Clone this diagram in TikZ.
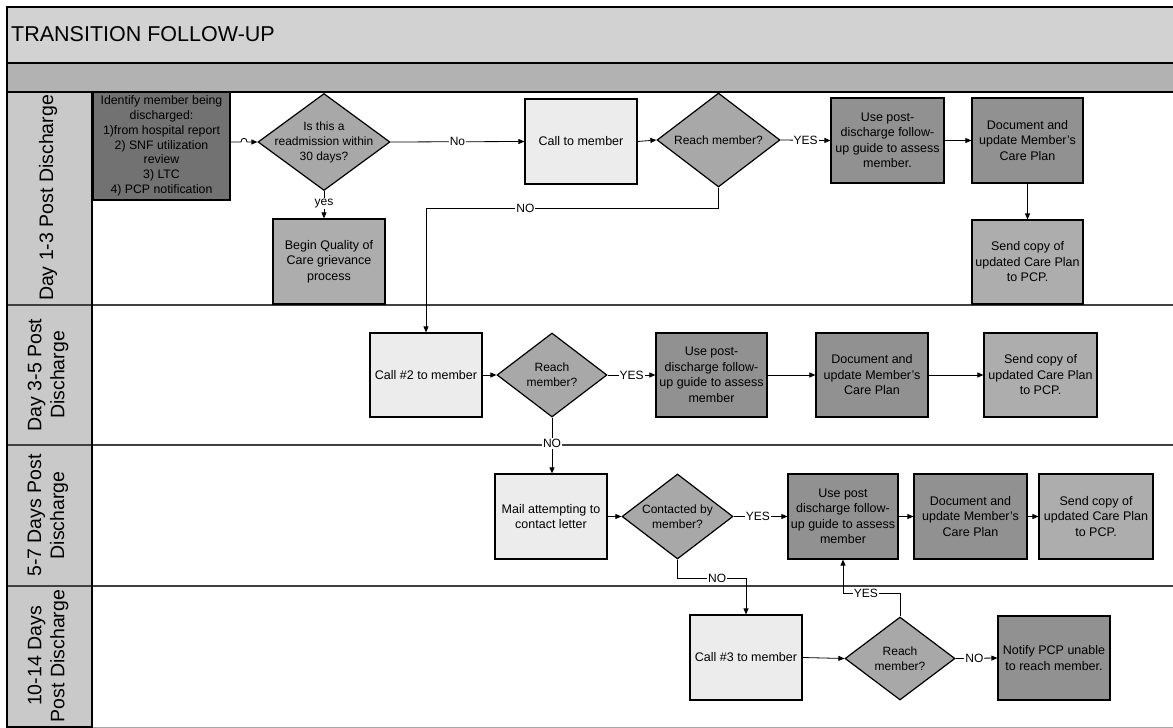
\documentclass[tikz,border=0pt]{standalone}
\usepackage{fontspec}
\setmainfont{Liberation Sans}
\usetikzlibrary{shapes.geometric,arrows.meta}

\definecolor{titlegray}{HTML}{D2D2D2}
\definecolor{bandgray}{HTML}{B2B2B2}
\definecolor{lanegray}{HTML}{C9C9C9}
\definecolor{darkbox}{HTML}{727272}
\definecolor{midbox}{HTML}{919191}
\definecolor{sendbox}{HTML}{ADADAD}
\definecolor{lightbox}{HTML}{ECECEC}
\definecolor{decgray}{HTML}{A8A8A8}

\tikzset{
  frame/.style={line width=1.6pt, black},
  lanesep/.style={line width=1.2pt, black!75},
  box/.style={draw=black, line width=1.2pt, rectangle, align=center,
    minimum width=112pt, minimum height=85pt, inner sep=1.5pt,
    font=\fontsize{12.5}{15.5}\selectfont},
  lightproc/.style={box, fill=lightbox},
  midproc/.style={box, fill=midbox},
  sendproc/.style={box, fill=sendbox},
  darkproc/.style={box, fill=darkbox},
  dec/.style={diamond, draw=black, line width=1.2pt, fill=decgray,
    inner sep=0pt, minimum width=110pt, minimum height=84pt},
  dtxt/.style={align=center, inner sep=0pt, font=\fontsize{12}{15}\selectfont},
  arr/.style={-{Triangle[length=6pt,width=5pt]}, line width=0.8pt, black},
  lbl/.style={fill=white, inner sep=1pt, font=\fontsize{12}{14}\selectfont},
  lanelbl/.style={rotate=90, align=center, font=\fontsize{19.5}{23}\selectfont},
}

\begin{document}
\begin{tikzpicture}[x=1pt,y=-1pt]
\useasboundingbox (0,0) rectangle (1173,728);

% ---- pool frame ----
\fill[titlegray] (7,7) rectangle (1173,63);
\fill[bandgray] (7,63) rectangle (1173,92);
\fill[lanegray] (7,92) rectangle (92,727);
\draw[black!35, line width=1pt] (92,727) -- (1173,727);
\draw[lanesep] (7,305) -- (1173,305);
\draw[lanesep] (7,445) -- (1173,445);
\draw[lanesep] (7,586) -- (1173,586);
\draw[frame] (1173,7) -- (7,7) -- (7,727) -- (92,727) -- (92,92);
\draw[frame] (7,63) -- (1173,63);
\draw[frame] (7,92) -- (1173,92);

\node[anchor=west, inner sep=0pt, font=\fontsize{21.5}{25}\selectfont] (title) at (11,34) {TRANSITION FOLLOW-UP};

% ---- lane labels ----
\node[lanelbl] (lane1) at (48,198) {Day 1-3 Post Discharge};
\node[lanelbl] (lane2) at (48,375) {Day 3-5 Post\\Discharge};
\node[lanelbl] (lane3) at (48,515.5) {5-7 Days Post\\Discharge};
\node[lanelbl] (lane4) at (48,656) {10-14 Days\\Post Discharge};

% ---- lane 1: day 1-3 ----
\node[darkproc, minimum width=137pt, minimum height=108pt,
      font=\fontsize{12.3}{14.8}\selectfont] (ident) at (161.5,146)
  {Identify member being\\discharged:\\1)from hospital report\\2) SNF utilization\\review\\3) LTC\\4) PCP notification};
\node[dec, minimum width=132pt, minimum height=97pt,
      label={[dtxt]center:Is this a\\readmission within\\30 days?}] (d1) at (324,142) {};
\node[sendproc] (begin) at (329,261.5) {Begin Quality of\\Care grievance\\process};
\node[lightproc] (call1) at (581,141.5) {Call to member};
\node[dec, minimum width=123pt, minimum height=94pt,
      label={[dtxt]center:Reach member?}] (reach1) at (718.5,140) {};
\node[midproc, minimum width=113pt] (use1) at (887.5,140.5) {Use post-\\discharge follow-\\up guide to assess\\member.};
\node[midproc, minimum width=111pt] (doc1) at (1027.5,140.5) {Document and\\update Member's\\Care Plan};
\node[sendproc, minimum width=111pt, minimum height=84pt] (send1) at (1027.5,262) {Send copy of\\updated Care Plan\\to PCP.};

% ---- lane 2: day 3-5 ----
\node[lightproc, minimum height=84pt] (call2) at (426,375) {Call \#2 to member};
\node[dec, label={[dtxt]center:Reach\\member?}] (reach2) at (552,375) {};
\node[midproc, minimum width=111pt, minimum height=84pt] (use2) at (711.5,375) {Use post-\\discharge follow-\\up guide to assess\\member};
\node[midproc, minimum height=84pt] (doc2) at (872,375) {Document and\\update Member's\\Care Plan};
\node[sendproc, minimum width=113pt, minimum height=84pt] (send2) at (1040.5,375) {Send copy of\\updated Care Plan\\to PCP.};

% ---- lane 3: day 5-7 ----
\node[lightproc] (mail) at (551,516.5) {Mail attempting to\\contact letter};
\node[dec, minimum width=111pt, minimum height=85pt,
      label={[dtxt]center:Contacted by\\member?}] (cont) at (677.5,516.5) {};
\node[midproc, minimum width=110pt] (use3) at (843,516.5) {Use post\\discharge follow-\\up guide to assess\\member};
\node[midproc, minimum width=113pt] (doc3) at (970.5,516.5) {Document and\\update Member's\\Care Plan};
\node[sendproc, minimum width=114pt] (send3) at (1096,516.5) {Send copy of\\updated Care Plan\\to PCP.};

% ---- lane 4: day 10-14 ----
\node[lightproc] (call3) at (746,657.5) {Call \#3 to member};
\node[dec, minimum width=110pt, minimum height=83pt,
      label={[dtxt]center:Reach\\member?}] (reach4) at (900,658.5) {};
\node[midproc, minimum height=84pt] (notify) at (1054,658) {Notify PCP unable\\to reach member.};

% ---- connectors ----
\coordinate (hopa) at (241,142);
\coordinate (hopb) at (247,142);
\draw[arr] (ident.east |- d1.west) -- (hopa) .. controls (241,137) and (247,137) .. (hopb) -- (d1.west);
\draw[arr] (d1.south) -- node[lbl, pos=0.45]{yes} (d1.south |- begin.north);
\draw[arr] (d1.east) -- node[lbl, pos=0.5]{No} (call1.west);
\draw[arr] (call1.east) -- (reach1.west);
\draw[arr] (reach1.east) -- node[lbl, pos=0.5]{YES} (use1.west);
\draw[arr] (use1.east) -- (doc1.west);
\draw[arr] (doc1.south) -- (send1.north);
\coordinate (no1) at (426,208);
\draw[arr] (reach1.south) |- node[lbl, pos=0.83]{NO} (no1) -- (call2.north);

\draw[arr] (call2.east) -- (reach2.west);
\draw[arr] (reach2.east) -- node[lbl, pos=0.5]{YES} (use2.west);
\draw[arr] (use2.east) -- (doc2.west);
\draw[arr] (doc2.east) -- (send2.west);
\draw[arr] (reach2.south) -- node[lbl, pos=0.46]{NO} (reach2.south |- mail.north);

\draw[arr] (mail.east) -- (cont.west);
\draw[arr] (cont.east) -- node[lbl, pos=0.45]{YES} (use3.west);
\draw[arr] (use3.east) -- (doc3.west);
\draw[arr] (doc3.east) -- (send3.west);
\coordinate (no3) at (746,578);
\draw[arr] (cont.south) |- node[lbl, pos=0.79]{NO} (no3) -- (call3.north);

\draw[arr] (call3.east) -- (reach4.west);
\draw[arr] (reach4.east) -- node[lbl, pos=0.45]{NO} (notify.west);
\coordinate (yes4) at (843,593);
\draw[arr] (reach4.north) |- node[lbl, pos=0.8]{YES} (yes4) -- (use3.south);
\end{tikzpicture}
\end{document}
